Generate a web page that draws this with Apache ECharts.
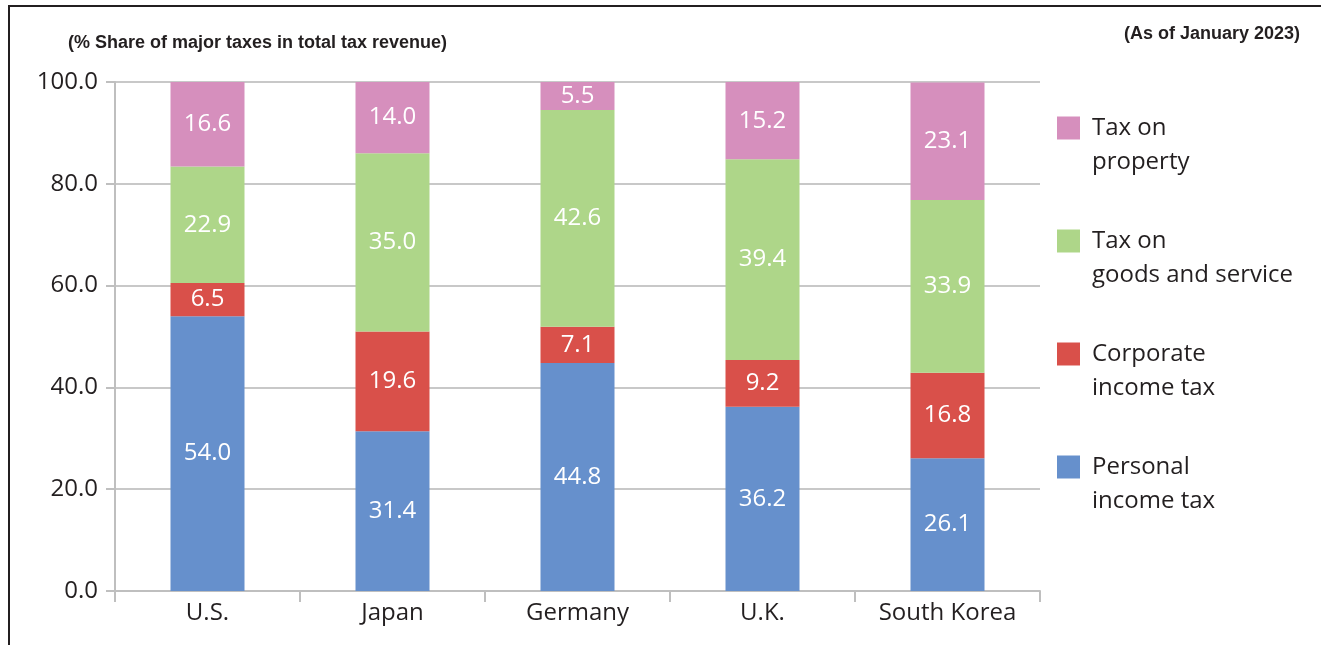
<!DOCTYPE html>
<html>
<head>
<meta charset="utf-8">
<script src="https://cdn.jsdelivr.net/npm/echarts@6/dist/echarts.min.js"></script>
<style>
html, body { margin: 0; padding: 0; background: #fff; }
#frame { position: absolute; left: 8px; top: 5px; width: 1313px; height: 640px; border-left: 2px solid #231f20; border-top: 2px solid #231f20; }
#chart { position: absolute; left: 0; top: 0; width: 1321px; height: 645px; }
</style>
</head>
<body>
<div id="frame"></div>
<div id="chart"></div>
<script>
var countries = ['U.S.', 'Japan', 'Germany', 'U.K.', 'South Korea'];
var personalTax = [54.0, 31.4, 44.8, 36.2, 26.1];
var corporateTax = [6.5, 19.6, 7.1, 9.2, 16.8];
var goodsTax = [22.9, 35.0, 42.6, 39.4, 33.9];
var propertyTax = [16.6, 14.0, 5.5, 15.2, 23.1];

var seriesNames = ['Personal\nincome tax', 'Corporate\nincome tax', 'Tax on\ngoods and service', 'Tax on\nproperty'];
var colors = ['#6690cc', '#d9504a', '#aed689', '#d68fbd'];

var FONT = '"Open Sans", "Noto Sans", sans-serif';

var chart = echarts.init(document.getElementById('chart'));

function bar(name, data, color) {
	return {
		name: name,
		type: 'bar',
		stack: 'total',
		barWidth: '40%',
		data: data,
		itemStyle: { color: color },
		label: {
			show: true,
			position: 'inside',
			color: '#fff',
			fontSize: 24,
			fontFamily: FONT,
			formatter: function (p) { return p.value.toFixed(1); }
		},
		emphasis: { disabled: true }
	};
}

var option = {
	animation: false,
	title: [{
		text: '(% Share of major taxes in total tax revenue)',
		left: 68,
		top: 34,
		padding: 0,
		textStyle: { fontFamily: '"Liberation Sans", Arial, sans-serif', fontWeight: 'bold', fontSize: 18, color: '#231f20' }
	}, {
		text: '(As of January 2023)',
		right: 21,
		top: 25,
		padding: 0,
		textStyle: { fontFamily: '"Liberation Sans", Arial, sans-serif', fontWeight: 'bold', fontSize: 18, color: '#231f20' }
	}],
	legend: {
		orient: 'vertical',
		left: 1057,
		top: 77,
		padding: 0,
		itemWidth: 23,
		itemHeight: 23,
		itemGap: 11,
		icon: 'rect',
		data: [seriesNames[3], seriesNames[2], seriesNames[1], seriesNames[0]],
		// leading blank line keeps the square level with the first text line
		formatter: function (name) { return '\n' + name; },
		textStyle: {
			fontFamily: FONT,
			fontSize: 24,
			color: '#231f20',
			lineHeight: 34,
			padding: [0, 0, 0, 7]
		},
		selectedMode: false
	},
	grid: {
		left: 115,
		right: 281,
		top: 82,
		bottom: 54
	},
	xAxis: {
		type: 'category',
		data: countries,
		axisLine: { lineStyle: { color: '#bfbfbf', width: 2 } },
		axisTick: { show: true, length: 11, lineStyle: { color: '#bfbfbf', width: 2 } },
		axisLabel: { fontFamily: FONT, fontSize: 24, color: '#231f20', margin: 10 }
	},
	yAxis: {
		type: 'value',
		min: 0,
		max: 100,
		interval: 20,
		axisLine: { show: true, lineStyle: { color: '#bfbfbf', width: 2 } },
		axisTick: { show: true, length: 9, lineStyle: { color: '#bfbfbf', width: 2 } },
		splitLine: { lineStyle: { color: '#c8c8c8', width: 2 } },
		axisLabel: {
			fontFamily: FONT,
			fontSize: 24,
			color: '#231f20',
			margin: 17,
			formatter: function (v) { return v.toFixed(1); }
		}
	},
	series: [
		bar(seriesNames[0], personalTax, colors[0]),
		bar(seriesNames[1], corporateTax, colors[1]),
		bar(seriesNames[2], goodsTax, colors[2]),
		bar(seriesNames[3], propertyTax, colors[3])
	]
};
chart.setOption(option);
window.addEventListener('resize', function () {
	chart.resize();
});
</script>
</body>
</html>
